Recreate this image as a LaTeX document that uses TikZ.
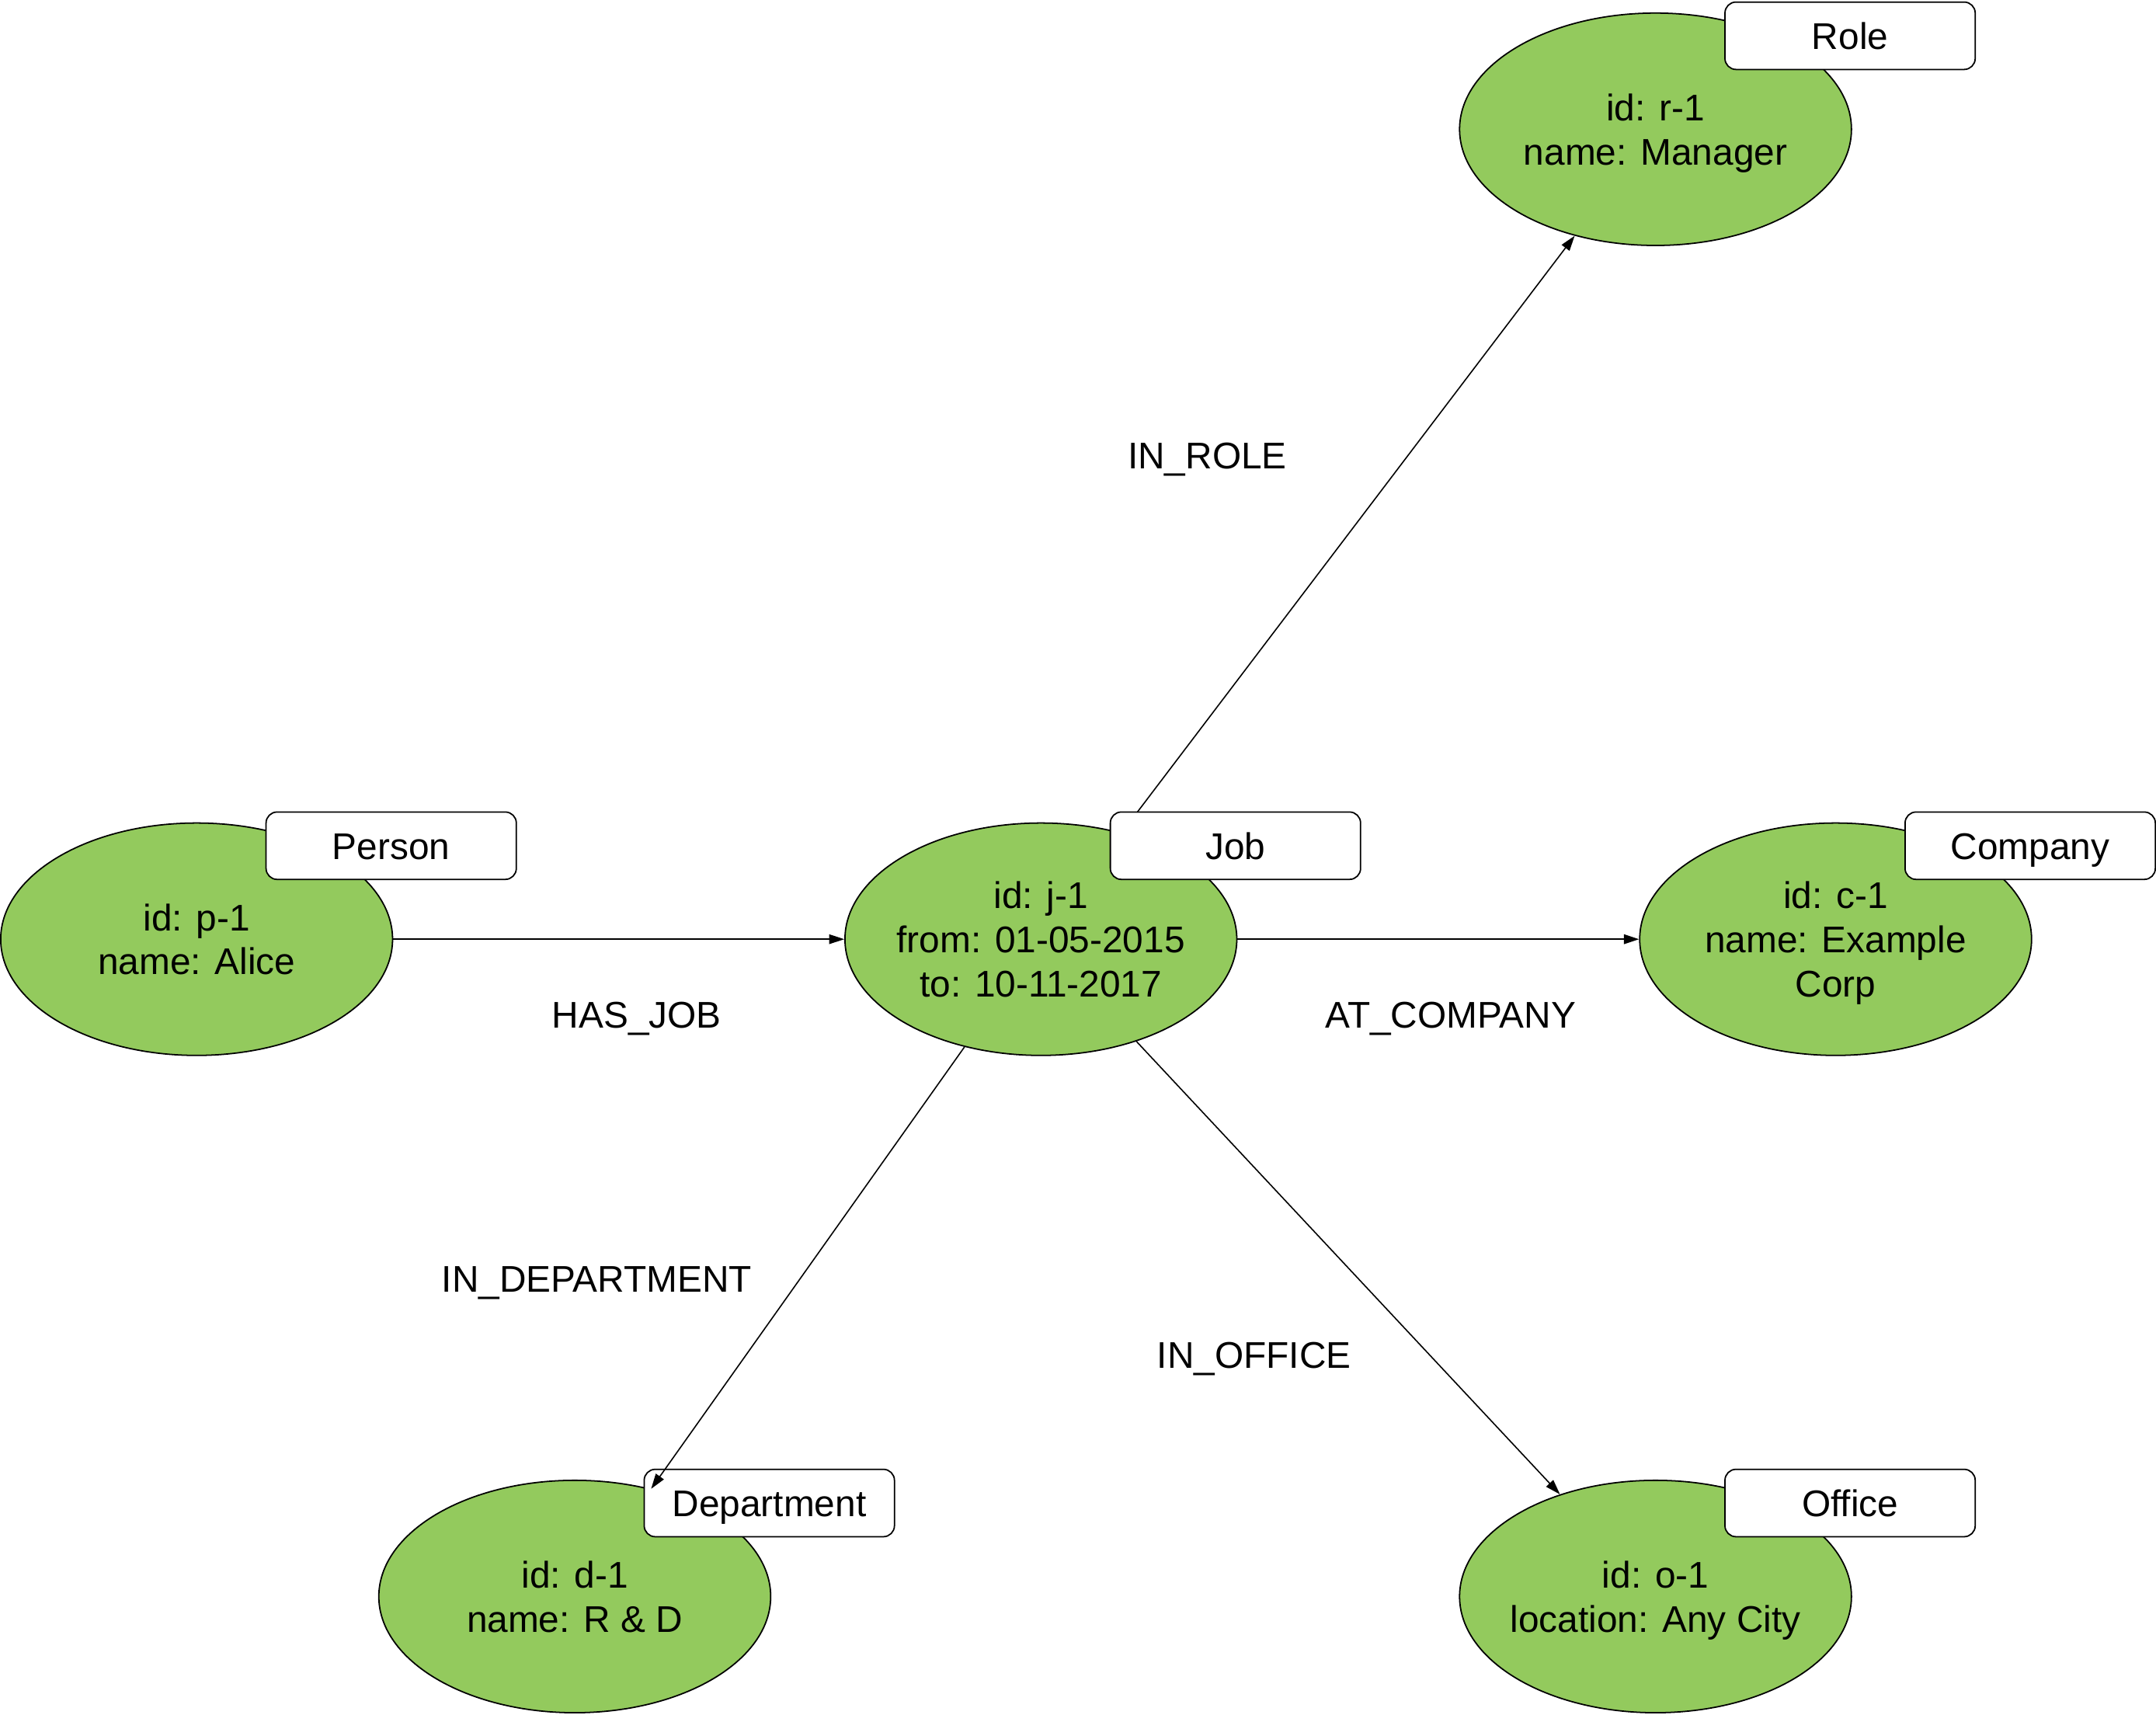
\documentclass[tikz,border=0pt]{standalone}
\usepackage{fontspec}
\setmainfont{Liberation Sans}
\usetikzlibrary{shapes.geometric,arrows.meta,positioning}
\definecolor{nodegreen}{RGB}{147,202,93}
\begin{document}
\begin{tikzpicture}[x=1pt,y=-1pt,
	entity/.style={ellipse,draw,fill=nodegreen,line width=1pt,minimum width=285pt,minimum height=169pt,inner xsep=-40pt,inner ysep=-20pt,text depth=0pt,align=center,font=\fontsize{27}{32}\selectfont},
	tag/.style={draw,fill=white,rounded corners=8pt,line width=1pt,minimum width=182pt,minimum height=49pt,inner sep=0pt,text height=19.5pt,text depth=0pt,font=\fontsize{27}{32}\selectfont},
	rel/.style={-{Triangle[length=11pt,width=7pt]},line width=0.9pt},
	rellabel/.style={text height=19.5pt,text depth=0pt,font=\fontsize{27}{32}\selectfont}]
			\useasboundingbox (0,0) rectangle (1568,1247);
			\foreach \n/\x/\y/\t in {person/143/683/{id: p-1\\name: Alice},job/757/683/{id: j-1\\from: 01-05-2015\\to: 10-11-2017},company/1335/683/{id: c-1\\name: Example\\Corp},role/1204/94/{id: r-1\\name: Manager},department/418/1161/{id: d-1\\name: R \& D},office/1204/1161/{id: o-1\\location: Any City}}{
				\node[entity] (\n) at (\x,\y) {\t};
			}
			\draw[rel] (job) -- (role);
			\foreach \n/\t in {person/Person,job/Job,company/Company,role/Role,department/Department,office/Office}{
				\node[tag] (\n-tag) at ([shift={(141.5,-68)}]\n.center) {\t};
			}
			\draw[rel] (person) -- (job);
			\draw[rel] (job) -- (company);
			\draw[rel] (job) -- (department);
			\draw[rel] (job) -- (office);
			\foreach \n/\x/\y/\t in {hasjob/463/738/HAS\_JOB,atcompany/1055/738/AT\_COMPANY,inrole/878/331/IN\_ROLE,indepartment/434/930/IN\_DEPARTMENT,inoffice/912/985/IN\_OFFICE}{
				\node[rellabel] (\n) at (\x,\y) {\t};
			}
		\end{tikzpicture}
\end{document}
